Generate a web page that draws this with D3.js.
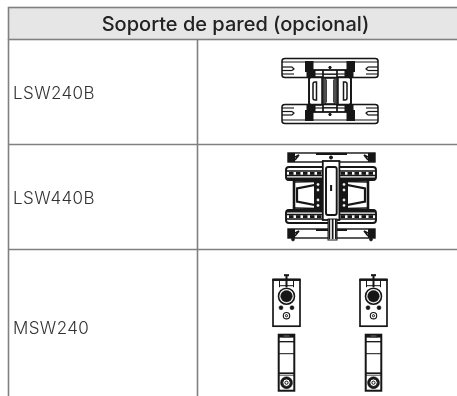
<!DOCTYPE html>
<html>
<head>
<meta charset="utf-8">
<script src="https://cdnjs.cloudflare.com/ajax/libs/d3/7.8.5/d3.min.js"></script>
<style>
  html, body { margin: 0; padding: 0; background: #fff; overflow: hidden; }
  svg { display: block; }
  text { font-family: Inter, sans-serif; }
</style>
</head>
<body>
<div id="chart"></div>
<script>
// table content
const title = "Soporte de pared (opcional)";
const models = ["LSW240B", "LSW440B", "MSW240"];
const rowWeights = [1, 1, 1.48];
const columns = ["model", "picture"];
const iconCopies = [[0], [0], [-1, 1]];

const width = 457;
const height = 396;
const ink = "#141414";
const rule = "#808080";

const svg = d3.select("#chart").append("svg")
  .attr("width", width)
  .attr("height", height);

// the source is a soft scan, a very small blur brings the lines closer to it
svg.append("defs").append("filter")
  .attr("id", "soft")
  .append("feGaussianBlur")
  .attr("stdDeviation", 0.35);

// row edges come from the weights, the last row runs off the page
const rowEdges = d3.cumsum([0].concat(rowWeights));
const y = d3.scaleLinear()
  .domain([0, d3.sum(rowWeights)])
  .range([39.5, 39.5 + 105 * d3.sum(rowWeights)]);
const x = d3.scaleOrdinal()
  .domain(columns)
  .range([8.5, 197.5]);
const pictureMid = 330;

// header
svg.append("rect")
  .attr("x", x("model"))
  .attr("y", 7.5)
  .attr("width", width)
  .attr("height", 32)
  .attr("fill", "#e6e6e7")
  .attr("stroke", rule)
  .attr("stroke-width", 1.6);

svg.append("text")
  .attr("x", 235.5)
  .attr("y", 31)
  .attr("text-anchor", "middle")
  .attr("font-size", 20)
  .attr("font-weight", 450)
  .attr("fill", "#222")
  .attr("filter", "url(#soft)")
  .text(title);

// grid
svg.selectAll("line.row")
  .data(rowEdges.slice(1, 3))
  .join("line")
  .attr("class", "row")
  .attr("x1", x("model"))
  .attr("x2", width)
  .attr("y1", d => y(d))
  .attr("y2", d => y(d))
  .attr("stroke", rule)
  .attr("stroke-width", 1.6);

svg.selectAll("line.col")
  .data(columns)
  .join("line")
  .attr("class", "col")
  .attr("x1", d => x(d))
  .attr("x2", d => x(d))
  .attr("y1", 39.5)
  .attr("y2", height)
  .attr("stroke", rule)
  .attr("stroke-width", 1.6);

// model names
svg.selectAll("text.model")
  .data(models)
  .join("text")
  .attr("class", "model")
  .attr("x", 13)
  .attr("y", (d, i) => (y(rowEdges[i]) + y(rowEdges[i + 1])) / 2 + 7)
  .attr("font-size", 17)
  .attr("letter-spacing", 0.4)
  .attr("font-weight", 350)
  .attr("fill", "#333")
  .attr("filter", "url(#soft)")
  .text(d => d);

// small helpers for the line drawings
function box(g, x0, y0, w, h, opts) {
  const o = Object.assign({ fill: "none", sw: 1, r: 0 }, opts);
  return g.append("rect")
    .attr("x", x0).attr("y", y0).attr("width", w).attr("height", h)
    .attr("rx", o.r)
    .attr("fill", o.fill)
    .attr("stroke", o.fill === ink ? "none" : ink)
    .attr("stroke-width", o.sw);
}
function seg(g, pts, sw, fill) {
  return g.append("path")
    .attr("d", d3.line()(pts))
    .attr("fill", fill || "none")
    .attr("stroke", ink)
    .attr("stroke-width", sw || 1);
}
function dot(g, cx, cy, r, fill, sw) {
  return g.append("circle")
    .attr("cx", cx).attr("cy", cy).attr("r", r)
    .attr("fill", fill)
    .attr("stroke", ink)
    .attr("stroke-width", sw || 1);
}
// calls draw four times, once for each quarter
function quarters(g, draw) {
  [[1, 1], [-1, 1], [1, -1], [-1, -1]].forEach(s => {
    draw(g.append("g").attr("transform", `scale(${s[0]},${s[1]})`));
  });
}

function drawSmallMount(g) {
  box(g, -21, -21, 42, 42, { sw: 1.8, fill: "#fff" });
  quarters(g, q => {
    // rail
    q.append("path")
      .attr("d", "M-48,-16 V-30 Q-48,-32.5 -45,-32.5 H0 M-48,-16 Q-48,-13.5 -45,-13.5 H0")
      .attr("fill", "none").attr("stroke", ink).attr("stroke-width", 1.5);
    seg(q, [[-48, -29], [0, -29]], 1.1);
    seg(q, [[-48, -17], [-36, -17]], 1.1);
    seg(q, [[-48, -24], [-38, -24]], 1.2);
    seg(q, [[-48, -20.5], [-38, -20.5]], 1.2);
    seg(q, [[-38, -24], [-36, -22], [-38, -20.5]], 1.2);
    seg(q, [[-17, -17], [0, -17]], 1.1);
    box(q, -25, -30, 8.5, 11, { fill: ink });
    box(q, -23.5, -21, 9, 8, { fill: ink });
    dot(q, 0, -23.5, 1.1, ink, 0.8);
    // side panel
    q.append("path")
      .attr("d", "M-19,-14 L-21,-12 V0 M-19,-14 H-8 V0 M-17,-7 Q-17,-9 -15,-9 H-13.5 V0 M-17,-7 V0")
      .attr("fill", "none").attr("stroke", ink).attr("stroke-width", 1.5);
    // middle column
    seg(q, [[-7, -21], [-7, 0]], 1.7);
    seg(q, [[-5, -13], [-5, 0]], 1.5);
    seg(q, [[-3.5, -11.5], [-3.5, 0]], 0.8);
    seg(q, [[-5, -13], [0, -13]], 1.5);
    seg(q, [[-7, -16.5], [0, -16.5]], 0.8);
  });
}

function drawLargeMount(g) {
  quarters(g, q => {
    // arms behind the column
    box(q, -45, -28, 45.5, 13, { sw: 1.9, r: 3 });
    seg(q, [[-45, -24], [0, -24]], 1.4);
    seg(q, [[-45, -19.5], [0, -19.5]], 1.4);
    [-42, -35, -28, -21, -14].forEach(v => box(q, v, -23, 4.5, 2.8, { fill: ink }));
    box(q, -44, -17.5, 36, 2.8, { fill: ink });
    // cross arm and the white opening it leaves
    seg(q, [[-37, -16], [-37, 0]], 2.6);
    seg(q, [[-34, 0], [-34, -6.7], [-16, -10], [-10, 0]], 2.2);
    seg(q, [[-37, -13], [-14, -13.5]], 1.6);
    box(q, -17, -15, 8, 15, { fill: ink });
    dot(q, -13, -10.5, 1.4, "#fff", 0.2);
    dot(q, -13, -5, 1.4, "#fff", 0.2);
  });
  // top and bottom bars
  [-42, 34].forEach((top, i) => {
    const bar = g.append("g");
    box(bar, -43, top, 87, 9, { fill: "#fff", sw: 1.4 });
    [-43, 37].forEach(v => box(bar, v, top, 7, 9, { fill: ink }));
    box(bar, -15, top, 31, 2, { fill: ink });
    seg(bar, [[-36, top + 4], [-32, top + 2], [-36, top + 7]], 1.5);
    seg(bar, [[37, top + 4], [33, top + 2], [37, top + 7]], 1.5);
    dot(bar, i ? -38 : 0, top + (i ? 10.5 : 4.5), 1.4, ink, 0.8);
    dot(bar, i ? 40 : 0, top + (i ? 10.5 : 4.5), 1.4, ink, 0.8);
  });
  // centre column
  box(g, -8.2, -34, 16.6, 59, { fill: "#fff", sw: 1.8 });
  box(g, -5, -28, 10.7, 48, { fill: "#fff", sw: 1.9, r: 2 });
  box(g, -0.9, -10, 2, 6, { fill: ink });
  box(g, -3, 24, 9, 21, { fill: "#fff", sw: 1 });
  [-2.5, 0.8, 4].forEach(v => box(g, v, 24, 1.7, 20, { fill: ink }));
}

function drawArmMount(g) {
  // plate, origin at the big circle
  box(g, -13.5, -16.5, 27, 46.5, { fill: "#fff", sw: 1.7 });
  seg(g, [[-14, -16.5], [14, -16.5]], 2.4);
  box(g, -2.5, -22, 5, 2, { fill: ink });
  seg(g, [[0, -21], [0, -9]], 2);
  seg(g, [[-7, -15.5], [-7, -9]], 1);
  seg(g, [[7, -15.5], [7, -9]], 1);
  seg(g, [[-7, -10.5], [7, -10.5]], 1);
  dot(g, 0, 0, 8, "#fff", 1.6);
  dot(g, 0, 0, 5.8, ink, 0.5);
  [-5.5, 5.5].forEach(v => dot(g, v, 11.5, 2, ink, 0.5));
  dot(g, 0, 19.5, 3.2, "#fff", 1.1);
  dot(g, 0, 19.5, 1.1, "#fff", 1);
  // arm below
  box(g, -7.8, 38.5, 15.6, 56, { fill: "#fff", sw: 2 });
  box(g, -7.8, 38, 15.6, 3.4, { fill: ink });
  box(g, -3.5, 39, 7, 1.6, { fill: "#ccc" });
  seg(g, [[-7.8, 45.5], [7.8, 45.5]], 1.3);
  seg(g, [[-7.8, 57.5], [7.8, 57.5]], 1);
  seg(g, [[-7.8, 77], [7.8, 77]], 1.6);
  seg(g, [[-7.8, 79], [7.8, 79]], 0.8);
  dot(g, 0, 86.5, 6, ink, 0.5);
  dot(g, 0, 86.5, 3.8, "#fff", 1);
  dot(g, 0, 86.5, 1.6, "#fff", 1);
}

const iconDraw = [drawSmallMount, drawLargeMount, drawArmMount];
const iconOffsetX = [0, 1, 0];
const iconOffsetY = [-1, -2, -31];

// one group for each row, placed from the same scale as the grid
svg.selectAll("g.row")
  .data(models)
  .join("g")
  .attr("class", "row")
  .attr("filter", "url(#soft)")
  .each(function (d, i) {
    const mid = (y(rowEdges[i]) + y(rowEdges[i + 1])) / 2;
    iconCopies[i].forEach(c => {
      const g = d3.select(this).append("g")
        .attr("transform", `translate(${pictureMid + iconOffsetX[i] + c * 43.5},${mid + iconOffsetY[i]})`);
      iconDraw[i](g);
    });
  });
</script>
</body>
</html>
